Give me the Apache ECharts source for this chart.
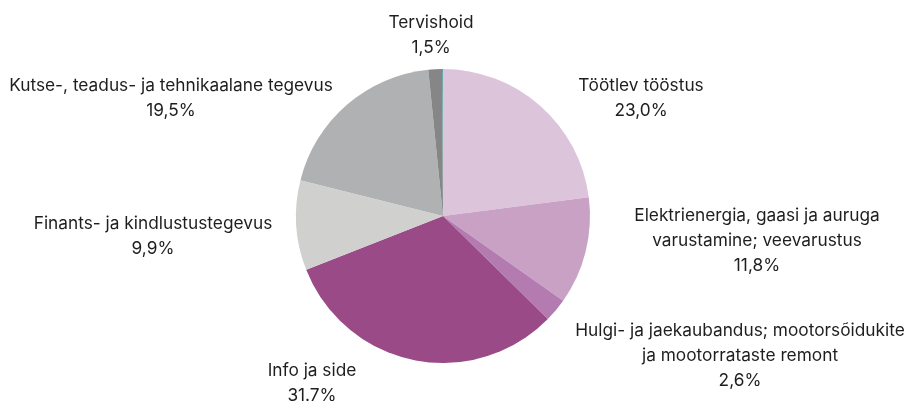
<!DOCTYPE html>
<html>
<head>
<meta charset="utf-8">
<script src="https://cdn.jsdelivr.net/npm/echarts@6/dist/echarts.min.js"></script>
<style>
  html, body { margin: 0; padding: 0; background: #ffffff; }
  #chart { width: 905px; height: 403px; }
</style>
</head>
<body>
<div id="chart"></div>
<script>
// Sectors, clockwise from 12 o'clock
const categories = [
  'Töötlev tööstus',
  'Elektrienergia, gaasi ja auruga\nvarustamine; veevarustus',
  'Hulgi- ja jaekaubandus; mootorsõidukite\nja mootorrataste remont',
  'Info ja side',
  'Finants- ja kindlustustegevus',
  'Kutse-, teadus- ja tehnikaalane tegevus',
  'Tervishoid',
  'Muu'
];
const values = [23.0, 11.8, 2.6, 31.7, 9.9, 19.5, 1.5, 0.1];
const valueLabels = ['23,0%', '11,8%', '2,6%', '31.7%', '9,9%', '19,5%', '1,5%', ''];
const colors = ['#dcc5db', '#c8a1c5', '#b47bb0', '#9a4a87', '#d0d1cf', '#b0b1b2', '#858685', '#5f9ea0'];

// Label anchor points (centre of each text block)
const labelAnchors = [
  [641, 98], [757, 241], [740, 356], [312, 383], [153, 236], [171, 98], [431, 35], [0, 0]
];

const chart = echarts.init(document.getElementById('chart'), null, { renderer: 'canvas' });
chart.setOption({
  animation: false,
  series: [{
    type: 'pie',
    center: [443, 216],
    radius: [0, 147],
    startAngle: 90,
    clockwise: true,
    avoidLabelOverlap: false,
    data: categories.map((name, i) => ({
      name: name,
      value: values[i],
      itemStyle: { color: colors[i] },
      label: { show: i < 7 }
    })),
    itemStyle: { borderWidth: 0 },
    label: {
      position: 'outside',
      fontFamily: 'Inter',
      fontSize: 17.3,
      lineHeight: 25,
      color: '#1e1e1e',
      align: 'center',
      formatter: (p) => p.name + '\n' + valueLabels[p.dataIndex]
    },
    labelLine: { show: false },
    labelLayout: (p) => ({
      x: labelAnchors[p.dataIndex][0],
      y: labelAnchors[p.dataIndex][1],
      align: 'center',
      verticalAlign: 'middle'
    })
  }]
});
</script>
</body>
</html>
